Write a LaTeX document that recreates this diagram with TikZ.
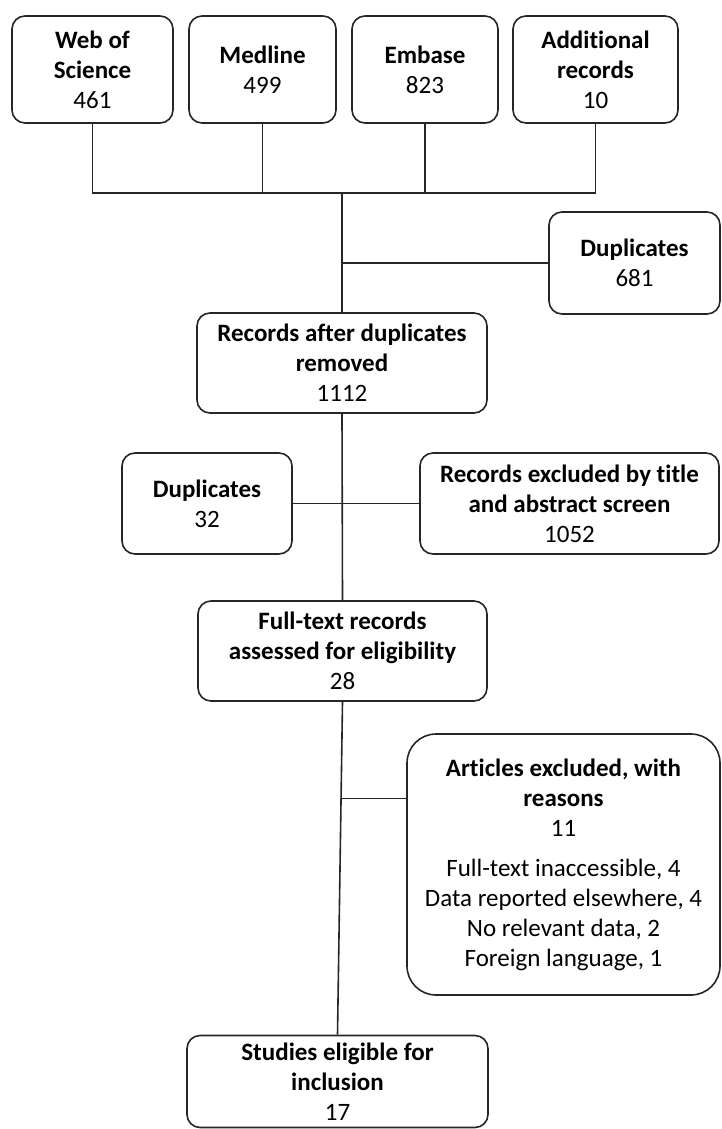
\documentclass[tikz,border=0pt]{standalone}
\usepackage{fontspec}
\setmainfont[Ligatures=NoCommon]{Carlito}
\usetikzlibrary{calc}
\begin{document}
\begin{tikzpicture}[x=1pt,y=-1pt,
  box/.style={draw=black!85, line width=1.6pt, rounded corners=13pt, align=center,
    inner sep=0pt, font=\fontsize{25}{30}\selectfont, text=black},
  conn/.style={draw=black!85, line width=1.6pt}]
\useasboundingbox (0,0) rectangle (721,1129);
% top sources
\node[box, minimum width=161pt, minimum height=107pt] (wos) at (92.5,69.5) {\textbf{Web of}\\\textbf{Science}\\461};
\node[box, minimum width=147pt, minimum height=107pt] (med) at (262.5,69.5) {\textbf{Medline}\\499};
\node[box, minimum width=146pt, minimum height=107pt] (emb) at (425,69.5) {\textbf{Embase}\\823};
\node[box, minimum width=165pt, minimum height=107pt] (add) at (595.5,69.5) {\textbf{Additional}\\\textbf{records}\\10};
% duplicates
\node[box, minimum width=171pt, minimum height=102pt] (dup1) at (634.5,263) {\textbf{Duplicates}\\681};
\node[box, minimum width=290pt, minimum height=100pt] (rec) at (342,363) {\textbf{Records after duplicates}\\\textbf{removed}\\1112};
\node[box, minimum width=170pt, minimum height=101pt] (dup2) at (207,503.5) {\textbf{Duplicates}\\32};
\node[box, minimum width=299pt, minimum height=101pt] (excl) at (569.5,503.5) {\textbf{Records excluded by title}\\\textbf{and abstract screen}\\1052};
\node[box, minimum width=289pt, minimum height=100pt] (full) at (342.5,651) {\textbf{Full-text records}\\\textbf{assessed for eligibility}\\28};
\node[box, rounded corners=29pt, minimum width=313pt, minimum height=261pt] (art) at (563.5,864.5) {\textbf{Articles excluded, with}\\\textbf{reasons}\\11\\[10pt]Full-text inaccessible, 4\\Data reported elsewhere, 4\\No relevant data, 2\\Foreign language, 1};
\node[box, minimum width=301pt, minimum height=92pt] (stud) at (337.5,1081.5) {\textbf{Studies eligible for}\\\textbf{inclusion}\\17};
% connectors
\coordinate (j) at (342,193);
\draw[conn] (wos.south) -- (wos.south |- j) -- (add.south |- j) -- (add.south);
\draw[conn] (med.south) -- (med.south |- j);
\draw[conn] (emb.south) -- (emb.south |- j);
\draw[conn] (j) -- (rec.north);
\draw[conn] (j |- dup1.west) -- (dup1.west);
\draw[conn] (rec.south) -- (full.north);
\draw[conn] (dup2.east) -- (excl.west);
\draw[conn] (full.south) -- (stud.north);
\coordinate (b3) at ($(full.south)!0.29!(stud.north)$);
\draw[conn] (b3) -- (b3 -| art.west);
\end{tikzpicture}
\end{document}
